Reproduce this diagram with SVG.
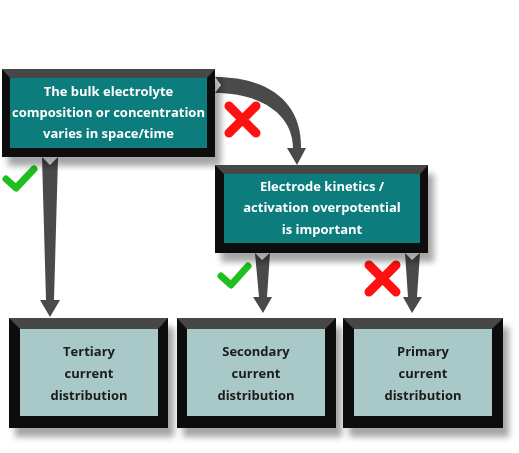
<svg xmlns="http://www.w3.org/2000/svg" width="519" height="453" viewBox="0 0 519 453">
<defs>
<filter id="sh" x="-10%" y="-10%" width="130%" height="140%">
<feDropShadow dx="6" dy="9" stdDeviation="3" flood-color="#000" flood-opacity="0.35"/>
</filter>
</defs>
<style>
.outer{fill:#111111}
.bevel{fill:#474747}
.teal{fill:#0a7b7b}
.pale{fill:#a9c9c9}
.tw{font-family:"Open Sans","DejaVu Sans",sans-serif;font-weight:700;font-size:13px;fill:#ffffff;text-anchor:middle}
.tb{font-family:"Open Sans","DejaVu Sans",sans-serif;font-weight:700;font-size:13px;fill:#1a1a1a;text-anchor:middle}
.arr{fill:#4a4a4a}
.ok{fill:none;stroke:#1fbf1f;stroke-width:7;stroke-linecap:round;stroke-linejoin:round}
.no{fill:none;stroke:#ff1111;stroke-width:9;stroke-linecap:round}
</style>
<rect width="519" height="453" fill="#ffffff"/>

<g id="connectors">
<path class="arr" d="M42,157 L50,165 L58,157 L54,300 L60,300 L50,317 L40,300 L46,300 Z"/>
<path class="arr" d="M215,77 C272,77 302,105 301,148 L306,148 L297,165 L287,148 L293,148 C293,115 262,93 215,93 L221,85 Z"/>
<path class="arr" d="M255,253 L262,260 L270,253 L267,297 L272,297 L263,313 L253,297 L259,297 Z"/>
<path class="arr" d="M405,253 L412,260 L420,253 L417,297 L422,297 L412,313 L403,297 L408,297 Z"/>
</g>

<g id="marks">
<path class="ok" d="M6,179 L16,188 L34,169"/>
<path class="ok" d="M221,276 L231,285 L248,266"/>
<path class="no" d="M229,106 L256,133 M256,106 L229,133"/>
<path class="no" d="M369,265 L396,292 M396,265 L369,292"/>
</g>

<g id="node-bulk" filter="url(#sh)">
<rect class="outer" x="2" y="69" width="213" height="88"/>
<polygon class="bevel" points="2,69 215,69 207,78 10,78"/>
<rect class="teal" x="10" y="78" width="197" height="70"/>
<text class="tw" x="108.5" y="96">The bulk electrolyte</text>
<text class="tw" x="108.5" y="117">composition or concentration</text>
<text class="tw" x="108.5" y="138">varies in space/time</text>
</g>

<g id="node-kinetics" filter="url(#sh)">
<rect class="outer" x="215" y="165" width="213" height="88"/>
<polygon class="bevel" points="215,165 428,165 420,174 224,174"/>
<rect class="teal" x="224" y="174" width="196" height="69"/>
<text class="tw" x="322" y="191">Electrode kinetics /</text>
<text class="tw" x="322" y="212">activation overpotential</text>
<text class="tw" x="322" y="234">is important</text>
</g>

<g id="node-tertiary" filter="url(#sh)">
<rect class="outer" x="9" y="318" width="159" height="110"/>
<polygon class="bevel" points="9,318 168,318 158,329 20,329"/>
<rect class="pale" x="20" y="329" width="138" height="87"/>
<text class="tb" x="89" y="356">Tertiary</text>
<text class="tb" x="89" y="378">current</text>
<text class="tb" x="89" y="400">distribution</text>
</g>

<g id="node-secondary" filter="url(#sh)">
<rect class="outer" x="177" y="318" width="159" height="110"/>
<polygon class="bevel" points="177,318 336,318 325,329 187,329"/>
<rect class="pale" x="187" y="329" width="138" height="87"/>
<text class="tb" x="256" y="356">Secondary</text>
<text class="tb" x="256" y="378">current</text>
<text class="tb" x="256" y="400">distribution</text>
</g>

<g id="node-primary" filter="url(#sh)">
<rect class="outer" x="343" y="318" width="160" height="110"/>
<polygon class="bevel" points="343,318 503,318 492,329 354,329"/>
<rect class="pale" x="354" y="329" width="138" height="87"/>
<text class="tb" x="423" y="356">Primary</text>
<text class="tb" x="423" y="378">current</text>
<text class="tb" x="423" y="400">distribution</text>
</g>
</svg>
